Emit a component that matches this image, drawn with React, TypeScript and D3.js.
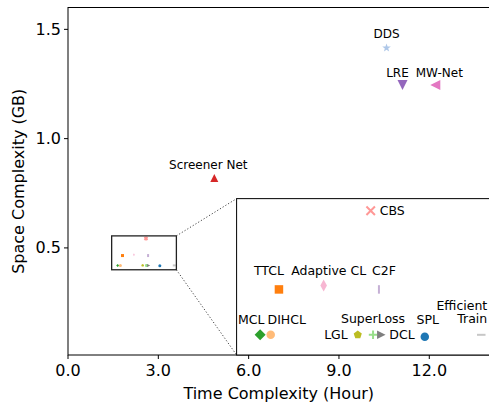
import React from "react";
import * as d3 from "d3";

// methods outside the zoomed region
const mainNames = ["DDS", "LRE", "MW-Net", "Screener Net"];
const mainTime = [10.58, 11.11, 12.2, 4.86];
const mainSpace = [1.415, 1.245, 1.245, 0.82];
const mainMarkers = ["star", "triDown", "triLeft", "triUp"];
const mainColors = ["#aec7e8", "#9467bd", "#e377c2", "#d62728"];

// methods inside the zoomed region
const zoomNames = ["CBS", "TTCL", "Adaptive CL", "C2F", "MCL", "DIHCL", "LGL", "SuperLoss", "DCL", "SPL", "Efficient Train"];
const zoomTime = [2.59, 1.81, 2.19, 2.66, 1.65, 1.74, 2.48, 2.61, 2.68, 3.05, 3.53];
const zoomSpace = [0.543, 0.465, 0.469, 0.465, 0.42, 0.42, 0.42, 0.42, 0.42, 0.418, 0.42];
const zoomMarkers = ["x", "square", "thinDiamond", "vline", "diamond", "circle", "pentagon", "plus", "triRight", "circle", "hline"];
const zoomColors = ["#ff9896", "#ff7f0e", "#f7b6d2", "#c5b0d5", "#2ca02c", "#ffbb78", "#bcbd22", "#98df8a", "#7f7f7f", "#1f77b4", "#c7c7c7"];

const xTicks = [0, 3, 6, 9, 12];
const yTicks = [0.5, 1.0, 1.5];
const zoomXLim = [1.45, 3.6];
const zoomYLim = [0.4, 0.555];

// label placement (offset from marker, px)
const mainLabelPos = [
  { dx: 0, dy: -14, anchor: "middle" },
  { dx: -5, dy: -12, anchor: "middle" },
  { dx: 4, dy: -12, anchor: "middle" },
  { dx: -6, dy: -13, anchor: "middle" },
];
const zoomLabelPos = [
  { dx: 9, dy: 0, anchor: "start" },
  { dx: -10, dy: -19, anchor: "middle" },
  { dx: 5, dy: -15, anchor: "middle" },
  { dx: 5, dy: -19, anchor: "middle" },
  { dx: -9, dy: -15, anchor: "middle" },
  { dx: 16, dy: -15, anchor: "middle" },
  { dx: -10, dy: 0, anchor: "end" },
  { dx: 0, dy: -16, anchor: "middle" },
  { dx: 8, dy: 0, anchor: "start" },
  { dx: 3, dy: -17, anchor: "middle" },
  { dx: 6, dy: -16, anchor: "end" },
];

const FONT = "DejaVu Sans, sans-serif";

function markerPath(kind: string, s: number): { d: string; stroke: boolean } {
  const r = s / 2;
  switch (kind) {
    case "circle":
      return { d: d3.arc()({ innerRadius: 0, outerRadius: r, startAngle: 0, endAngle: 2 * Math.PI }) as string, stroke: false };
    case "square":
      return { d: `M${-r},${-r}H${r}V${r}H${-r}Z`, stroke: false };
    case "diamond":
      return { d: `M0,${-r}L${r},0L0,${r}L${-r},0Z`, stroke: false };
    case "thinDiamond":
      return { d: `M0,${-r}L${r * 0.55},0L0,${r}L${-r * 0.55},0Z`, stroke: false };
    case "triUp":
      return { d: `M0,${-r}L${r},${r}L${-r},${r}Z`, stroke: false };
    case "triDown":
      return { d: `M0,${r}L${r},${-r}L${-r},${-r}Z`, stroke: false };
    case "triLeft":
      return { d: `M${-r},0L${r},${-r}L${r},${r}Z`, stroke: false };
    case "triRight":
      return { d: `M${r},0L${-r},${-r}L${-r},${r}Z`, stroke: false };
    case "star": {
      const pts = d3.range(10).map((i) => {
        const a = -Math.PI / 2 + (i * Math.PI) / 5;
        const rr = i % 2 === 0 ? r : r * 0.4;
        return [rr * Math.cos(a), rr * Math.sin(a)] as [number, number];
      });
      return { d: d3.line()(pts) + "Z", stroke: false };
    }
    case "pentagon": {
      const pts = d3.range(5).map((i) => {
        const a = -Math.PI / 2 + (i * 2 * Math.PI) / 5;
        return [r * Math.cos(a), r * Math.sin(a)] as [number, number];
      });
      return { d: d3.line()(pts) + "Z", stroke: false };
    }
    case "plus":
      return { d: `M${-r},0H${r}M0,${-r}V${r}`, stroke: true };
    case "x":
      return { d: `M${-r},${-r}L${r},${r}M${-r},${r}L${r},${-r}`, stroke: true };
    case "vline":
      return { d: `M0,${-r}V${r}`, stroke: true };
    case "hline":
      return { d: `M${-r},0H${r}`, stroke: true };
  }
  return { d: "", stroke: false };
}

const Marker = ({ x, y, kind, color, size }: any) => {
  const m = markerPath(kind, size);
  return (
    <path
      d={m.d}
      transform={`translate(${x},${y})`}
      fill={m.stroke ? "none" : color}
      stroke={m.stroke ? color : "none"}
      strokeWidth={m.stroke ? 2 : 0}
    />
  );
};

export default function App() {
  const width = 489;
  const height = 404;
  const left = 68;
  const right = 489.5;
  const top = 7.5;
  const bottom = 355;

  const x = d3.scaleLinear().domain([0, 14]).range([left, right]);
  const y = d3.scaleLinear().domain([0.01, 1.6]).range([bottom, top]);

  // inset axes at [0.4, 0, 0.6, 0.45] of main axes
  const iw = right - left;
  const ih = bottom - top;
  const insLeft = left + 0.4 * iw;
  const insTop = bottom - 0.45 * ih;
  const ix = d3.scaleLinear().domain(zoomXLim).range([insLeft, right]);
  const iy = d3.scaleLinear().domain(zoomYLim).range([bottom, insTop]);

  const rx0 = x(zoomXLim[0]);
  const rx1 = x(zoomXLim[1]);
  const ry0 = y(zoomYLim[1]);
  const ry1 = y(zoomYLim[0]);

  return (
    <svg width={width} height={height} style={{ position: "absolute", left: 0, top: 0, background: "#fff" }} fontFamily={FONT}>
      <rect x={0} y={0} width={width} height={height} fill="#fff" />

      {/* main plot markers */}
      {mainNames.map((n, i) => (
        <g key={n}>
          <Marker x={x(mainTime[i])} y={y(mainSpace[i])} kind={mainMarkers[i]} color={mainColors[i]} size={i === 0 ? 9 : i === 3 ? 8 : 10} />
          <text
            x={x(mainTime[i]) + mainLabelPos[i].dx}
            y={y(mainSpace[i]) + mainLabelPos[i].dy}
            textAnchor={mainLabelPos[i].anchor}
            dominantBaseline="central"
            fontSize={12}
          >
            {n}
          </text>
        </g>
      ))}

      {/* tiny copies of zoomed points */}
      {zoomNames.map((n, i) => (
        <Marker key={n} x={x(zoomTime[i])} y={y(zoomSpace[i])} kind={zoomMarkers[i]} color={zoomColors[i]} size={3} />
      ))}

      {/* zoom rectangle + connectors */}
      <rect x={rx0} y={ry0} width={rx1 - rx0} height={ry1 - ry0} fill="none" stroke="#222" strokeWidth={1.3} />
      <line x1={rx1} y1={ry0} x2={insLeft} y2={insTop} stroke="#444" strokeWidth={1} strokeDasharray="1.2,2" />
      <line x1={rx1} y1={ry1} x2={insLeft} y2={bottom} stroke="#444" strokeWidth={1} strokeDasharray="1.2,2" />

      {/* main frame */}
      <rect x={left} y={top} width={right - left} height={bottom - top} fill="none" stroke="#000" strokeWidth={1} />

      {/* x axis */}
      {xTicks.map((t) => (
        <g key={t} transform={`translate(${x(t)},${bottom})`}>
          <line y2={4} stroke="#000" />
          <text y={15} textAnchor="middle" dominantBaseline="central" fontSize={16}>
            {t.toFixed(1)}
          </text>
        </g>
      ))}
      <text x={(left + right) / 2} y={393} textAnchor="middle" dominantBaseline="central" fontSize={16}>
        Time Complexity (Hour)
      </text>

      {/* y axis */}
      {yTicks.map((t) => (
        <g key={t} transform={`translate(${left},${y(t)})`}>
          <line x2={-4} stroke="#000" />
          <text x={-7} textAnchor="end" dominantBaseline="central" fontSize={16}>
            {t.toFixed(1)}
          </text>
        </g>
      ))}
      <text
        transform={`translate(18,${(top + bottom) / 2}) rotate(-90)`}
        textAnchor="middle"
        dominantBaseline="central"
        fontSize={16}
      >
        Space Complexity (GB)
      </text>

      {/* inset axes */}
      <rect x={insLeft} y={insTop} width={right - insLeft} height={bottom - insTop} fill="#fff" stroke="#000" strokeWidth={1} />
      {zoomNames.map((n, i) => {
        const px = ix(zoomTime[i]);
        const py = iy(zoomSpace[i]);
        const lp = zoomLabelPos[i];
        const lines = n === "Efficient Train" ? ["Efficient", "Train"] : [n];
        return (
          <g key={n}>
            <Marker x={px} y={py} kind={zoomMarkers[i]} color={zoomColors[i]} size={zoomMarkers[i] === "diamond" ? 11 : zoomMarkers[i] === "thinDiamond" ? 12 : 8.5} />
            {lines.map((l, j) => (
              <text
                key={l}
                x={px + lp.dx}
                y={py + lp.dy - (lines.length - 1 - j) * 13.5}
                textAnchor={lp.anchor}
                dominantBaseline="central"
                fontSize={12.5}
              >
                {l}
              </text>
            ))}
          </g>
        );
      })}
    </svg>
  );
}
